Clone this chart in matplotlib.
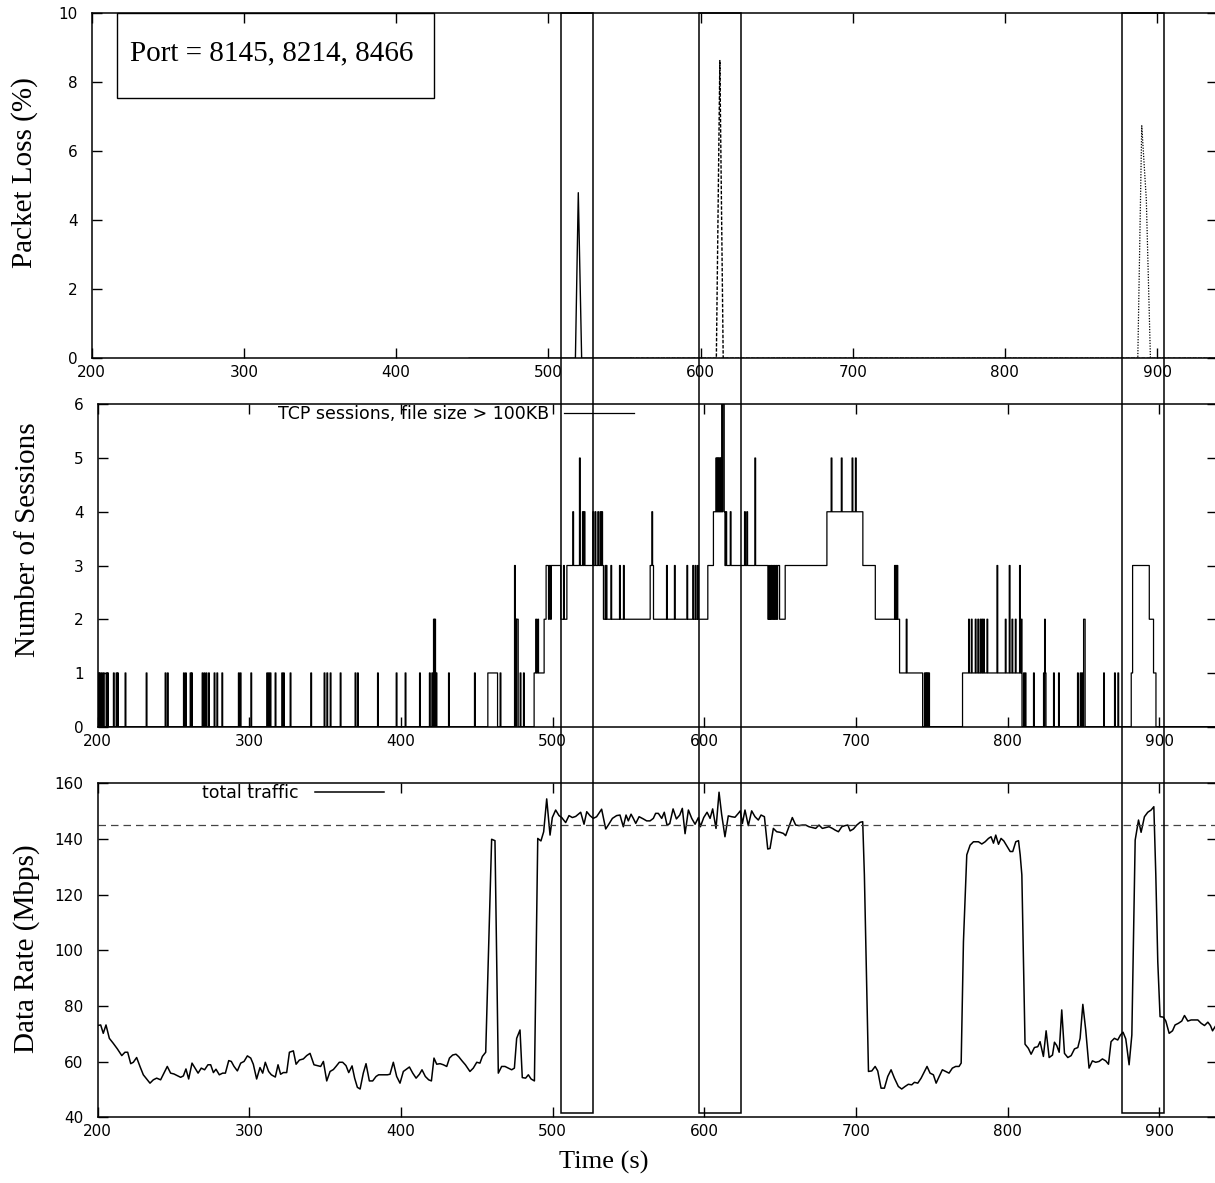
import numpy as np
import matplotlib
matplotlib.use("Agg")
import matplotlib.pyplot as plt
from matplotlib.patches import Rectangle
from matplotlib.transforms import blended_transform_factory

plt.rcParams['font.family'] = ['DejaVu Sans']
SERIF = 'Liberation Serif'

# ---------------- data ----------------
# packet loss (%) for the three ports
loss_a_t = [448, 517.8, 519.7, 521.9, 554]
loss_a = [0, 0, 4.8, 0, 0]
loss_b_t = [554, 610.4, 612.7, 614.9, 938]
loss_b = [0, 0, 8.63, 0, 0]
loss_c_t = [554, 887.3, 889.9, 892.9, 895.6, 938]
loss_c = [0, 0, 6.74, 4.6, 0, 0]

# number of TCP sessions: baseline level changes (step)
sess_base_t = [200, 457.2, 463.6, 487.7, 494.3, 495.6, 505.3, 509.3, 533.4, 564.2,
               566.4, 602.2, 605.9, 613.5, 649.5, 653.2, 680.7, 704.4, 712.6, 728.6,
               743.8, 770.1, 809.3, 881.3, 882.2, 893.2, 896.0, 897.6]
sess_base_n = [0, 1, 0, 1, 2, 3, 2, 3, 2, 3,
               2, 3, 4, 3, 2, 3, 4, 3, 2, 1,
               0, 1, 0, 1, 3, 2, 1, 0]
# short-lived sessions (spikes) : time, level reached
spike_t = [200.3, 201.2, 202.5, 203.8, 205.6, 206.5, 210.4, 212.2, 213.1, 218.1,
           232, 244.5, 246, 256.6, 257.9, 261, 261.9, 268.9, 270.2, 271.5,
           273.1, 276.8, 278.6, 281.9, 292.8, 294, 301, 311.5, 312.6, 313.7,
           317, 321.4, 322.5, 326.9, 340.5, 349.3, 351.1, 353.3, 359.9, 369.7,
           371.3, 384.5, 396.8, 402.7, 412.2, 418.7, 420.3, 421.4, 422.2, 423.1,
           431.3, 448.4, 465.3, 474.8, 475.5, 476.2, 476.7, 478.5, 480.7, 488.8,
           490.1, 497.2, 498.5, 507.1, 513.2, 517.6, 519.6, 520.7, 526.4, 527.9,
           529.7, 531.2, 532.3, 534.5, 535.2, 538.3, 544, 546.6, 565.3, 575,
           580.2, 588.4, 592.3, 593.9, 595.4, 607.5, 608.3, 609.0, 609.8, 610.6,
           611.4, 612.0, 612.5, 614.1, 617, 626.4, 627.9, 633.2, 641.8, 642.5,
           643.3, 644.4, 645.5, 646.6, 647.7, 683.5, 690.2, 697.3, 699.5, 725.3,
           726.1, 726.9, 733, 745, 746, 746.8, 747.8, 774.1, 775.9, 778.5,
           780.2, 781.8, 782.9, 784, 786.2, 792.8, 798.3, 800.9, 802.7, 804.9,
           807.7, 808.8, 810.3, 811.4, 816.9, 823.5, 824.2, 824.6, 830.1, 833.4,
           845.9, 847.7, 848.8, 849.9, 850.4, 863.1, 870.3, 872.5]
spike_n = [1, 1, 1, 1, 1, 1, 1, 1, 1, 1,
           1, 1, 1, 1, 1, 1, 1, 1, 1, 1,
           1, 1, 1, 1, 1, 1, 1, 1, 1, 1,
           1, 1, 1, 1, 1, 1, 1, 1, 1, 1,
           1, 1, 1, 1, 1, 1, 1, 2, 2, 1,
           1, 1, 1, 3, 2, 2, 2, 1, 1, 2,
           2, 2, 2, 3, 4, 5, 4, 4, 4, 4,
           4, 4, 4, 3, 3, 3, 3, 3, 4, 3,
           3, 3, 3, 3, 3, 5, 5, 5, 5, 5,
           6, 6, 6, 4, 4, 4, 4, 5, 2, 2,
           2, 2, 2, 2, 2, 5, 5, 5, 5, 3,
           3, 3, 2, 1, 1, 1, 1, 2, 2, 2,
           2, 2, 2, 2, 2, 3, 2, 3, 2, 2,
           3, 2, 1, 1, 1, 1, 2, 1, 1, 1,
           1, 1, 1, 2, 2, 1, 1, 1]
spike_width = 0.5

# total traffic (Mbps)
traffic_t = [
    200, 202.1, 203.8, 205.6, 207.8, 210.4, 213.1, 216, 218.1, 219.9,
    221.9, 223.6, 225.8, 228, 230.2, 232.4, 234.6, 236.8, 239, 241.6,
    243.8, 246, 248.2, 250.4, 252.6, 254.8, 256.6, 258.3, 260.1, 262.3,
    264.1, 266.3, 268.4, 270.6, 272.8, 274.6, 276.4, 278.1, 280.3, 282.5,
    284.3, 286.5, 288.2, 290, 292.2, 294.4, 296.6, 298.8, 301, 302.7,
    304.9, 307.1, 308.9, 310.6, 312.8, 314.6, 317.2, 319, 320.7, 322.5,
    324.7, 326.5, 329.1, 330.9, 333.1, 335.7, 337.9, 340.1, 342.7, 344.9,
    347.1, 348.9, 351.1, 353.3, 355.5, 357.2, 359.4, 361.6, 363.8, 365.6,
    367.8, 369.5, 371.3, 373.1, 375.2, 377, 379.2, 381.4, 383.6, 385.3,
    388.4, 391.1, 392.8, 395, 397.2, 399.4, 401.6, 405.6, 407.8, 410,
    412.2, 413.9, 416.1, 418.3, 420.1, 421.8, 423.6, 425.8, 428, 430.2,
    432, 434.1, 436.3, 438.1, 440.3, 442.5,
    445.5, 447.7, 450, 452.1, 453.7, 455.9, 459.8, 462, 464.2, 466.4,
    468.6, 470.8, 473, 474.8, 476.3, 478.5, 480, 482.2, 484, 485.8,
    488, 490.2, 492.3, 494.1, 496.1, 498.3, 499.8, 502, 504.2, 506,
    508.6, 510.8, 513, 515.2, 518.5, 520.7, 522.5, 524.6, 526.8, 529,
    532.3, 535, 536.7, 539.4, 542.2, 544.4, 546.6, 548.4, 549.9, 551.7,
    553.2, 554.8, 557, 559.8, 562, 564.2, 566.4, 567.9, 569.7, 571.9,
    573.6, 575.4, 577.2, 579.4, 581.6, 583.8, 585.5, 587.3, 589.5, 591.7,
    593.9, 596.1, 597.4, 599.6, 601.8, 603.8, 605.5, 607.7, 609.7, 611.4,
    613.6, 615.8, 618, 620.2, 622.4, 623.7, 625.1, 626.8, 629, 631.2,
    633.4, 635.6, 637.4, 639.6, 641.8, 643.3, 645.5, 647.7, 649.9, 652.1,
    653.6, 655.8, 658, 660.2, 662.4, 664.6, 666.8, 669, 671.2, 673.4,
    675.6, 677.8, 680, 682.2, 684.4,
    686.2, 688.4, 690.6, 692.8, 694.6, 696.1, 698.3, 700.5, 702.7, 704.4,
    705.5, 708.2, 710.4, 712.6, 714.3, 716.5, 718.7, 720.9, 723.1, 725.3,
    727.9, 730.1, 732.3, 734.5, 736.7, 738.5, 740.7, 742.9, 745.1, 746.8,
    748.8, 751, 752.8, 754.8, 756.9, 759.1, 761.3, 763.5, 765.7, 767.9,
    769.3, 770.8, 773, 775.2, 777.4, 780.7, 782.9, 785.1, 787.3, 789,
    790.6, 792.1, 793.9, 795.6, 797.4, 799.4, 801.6, 803.3, 805.3, 807.1,
    808.2, 809.3, 810.4, 811.4, 813.6, 815.4, 817.6, 819.8, 821.3, 823.5,
    825.3, 827.3, 829.5, 830.8, 832.3, 833.9, 835.6, 837.4, 839.6, 841.8,
    844, 846.2, 847.7, 849.5, 851.4, 853.6, 855.8, 858, 860.2, 862.4,
    864.6, 866.4, 868.1, 870.3, 872.5, 874.3, 876, 877.8, 880, 881.8,
    884, 886.2, 887.9, 890.1, 892.3, 894.5, 896.3, 897.6, 898.9, 900.4,
    902.6, 904.2, 906.4, 908.6, 910.3, 912.5, 914.7, 916.5, 918.7, 920.9,
    923.1, 925.3, 927.5, 929.7, 931.9, 933.6, 935, 936.7]
traffic_mbps = [
    73.0, 73.2, 70.2, 73.2, 68.4, 66.6, 64.6, 62.2, 63.4, 63.4,
    59.3, 59.8, 61.5, 58.3, 55.3, 53.8, 52.3, 53.5, 54.1, 53.5,
    55.9, 58.3, 55.9, 55.6, 55.0, 54.4, 54.9, 57.4, 53.8, 59.5,
    57.9, 55.9, 57.7, 57.1, 58.9, 58.9, 56.1, 57.3, 55.3, 55.9,
    55.9, 60.4, 60.1, 58.3, 56.7, 59.5, 60.1, 62.1, 61.3, 59.1,
    53.8, 57.9, 55.9, 59.8, 56.5, 55.3, 54.5, 58.9, 55.5, 56.1,
    56.1, 63.4, 63.9, 59.1, 60.6, 61.0, 62.2, 63.0, 58.9, 58.6,
    58.3, 60.1, 53.1, 56.5, 57.2, 58.3, 59.8, 59.8, 58.6, 56.1,
    58.5, 54.1, 50.8, 50.2, 55.9, 59.3, 53.1, 53.1, 54.7, 55.3,
    55.3, 55.3, 55.5, 59.8, 54.7, 52.3, 56.5, 58.1, 55.9, 54.1,
    55.5, 57.1, 54.7, 53.5, 53.1, 61.3, 59.1, 59.3, 58.9, 58.3,
    61.3, 62.4, 62.7, 61.8, 60.3, 58.9,
    56.5, 57.7, 59.8, 59.5, 61.9, 63.4, 139.9, 139.4, 55.9, 58.3,
    58.3, 57.7, 57.1, 57.7, 68.4, 71.4, 54.3, 54.1, 55.3, 53.8,
    53.1, 140.2, 139.3, 142.6, 154.4, 141.4, 147.7, 150.4, 148.4, 147.7,
    145.9, 148.4, 147.7, 148.1, 149.6, 145.3, 149.8, 148.4, 147.4, 148.0,
    150.7, 143.6, 145.0, 147.4, 148.4, 148.6, 144.4, 148.6, 146.5, 148.9,
    147.4, 145.6, 148.0, 147.2, 146.5, 146.5, 147.4, 149.2, 149.2, 147.4,
    149.6, 145.0, 145.5, 150.8, 147.2, 148.6, 151.0, 141.9, 150.4, 147.4,
    145.3, 147.7, 144.4, 147.7, 149.6, 147.4, 150.8, 143.8, 156.8, 148.9,
    140.8, 148.3, 148.0, 147.8, 149.2, 150.1, 145.6, 150.4, 144.8, 150.1,
    148.0, 146.8, 148.6, 148.0, 136.4, 136.6, 143.8, 142.6, 142.4, 142.0,
    141.2, 144.4, 147.7, 145.0, 144.8, 145.0, 145.0, 144.4, 144.1, 143.8,
    145.0, 143.8, 144.1, 144.4, 143.8,
    143.2, 142.6, 144.4, 144.8, 145.0, 142.9, 143.6, 145.0, 146.0, 146.2,
    127.1, 56.5, 56.7, 58.3, 56.7, 50.5, 50.5, 54.7, 57.1, 54.1,
    51.1, 50.2, 51.1, 51.9, 51.7, 52.6, 52.3, 54.1, 56.5, 58.3,
    55.9, 55.3, 52.3, 54.7, 57.1, 56.5, 55.9, 57.7, 58.3, 58.3,
    59.5, 103.1, 134.3, 137.8, 139.0, 139.0, 138.2, 139.0, 140.2, 140.8,
    138.5, 141.4, 138.1, 140.2, 139.3, 137.5, 135.5, 135.5, 139.0, 139.4,
    134.3, 127.1, 95.9, 66.3, 64.8, 62.7, 65.1, 65.4, 67.2, 61.9,
    71.1, 61.5, 62.4, 67.0, 65.8, 63.4, 78.6, 63.0, 61.5, 62.2,
    64.6, 65.1, 68.4, 80.6, 71.4, 57.7, 60.3, 59.8, 60.1, 61.0,
    60.3, 59.1, 67.2, 68.4, 67.8, 69.6, 70.6, 68.2, 58.9, 69.6,
    139.6, 146.8, 142.4, 148.0, 149.6, 150.4, 151.6, 127.1, 95.9, 76.2,
    76.0, 74.6, 70.2, 71.1, 73.2, 73.8, 74.6, 76.6, 74.6, 75.0,
    75.0, 75.0, 73.8, 73.0, 74.2, 73.0, 71.1, 72.6]
link_capacity = 145  # dashed reference line

# highlighted time windows (s)
windows = [(505.8, 526.6), (596.5, 624.4), (875.4, 903.3)]

port_text = "Port = 8145, 8214, 8466"

# ---------------- figure ----------------
W, H = 1215, 1183
fig = plt.figure(figsize=(W / 100, H / 100), dpi=100)

def px_axes(left, right, top, bottom):
    return fig.add_axes([left / W, 1 - bottom / H, (right - left) / W, (bottom - top) / H])

ax1 = px_axes(91.7, 1217.4, 13.3, 358.3)
ax2 = px_axes(97.5, 1217.4, 404.3, 726.7)
ax3 = px_axes(97.5, 1217.4, 783.3, 1117.4)

for ax in (ax1, ax2, ax3):
    ax.tick_params(direction='in', top=True, right=True, length=7, width=1,
                   labelsize=11, pad=5)
    ax.tick_params(axis='y', pad=10)
    ax.set_xticks(range(200, 901, 100))
    for s in ax.spines.values():
        s.set_linewidth(1.1)
    ax.spines['right'].set_visible(False)

# top: packet loss
ax1.plot(loss_a_t, loss_a, color='black', lw=1.0)
ax1.plot(loss_c_t, loss_c, color='black', lw=0.9, linestyle=(0, (1, 1.2)))
ax1.plot(loss_b_t, loss_b, color='black', lw=1.0, linestyle=(0, (2.5, 1.2)))
ax1.set_xlim(200, 939.6)
ax1.set_ylim(0, 10)
ax1.set_yticks(range(0, 11, 2))
ax1.set_ylabel("Packet Loss (%)", family=SERIF, fontsize=21, va='center')
ax1.yaxis.set_label_coords(-0.0593, 0.537)
ax1.add_patch(Rectangle((0.0227, 0.7536), 0.2816, 0.2464, transform=ax1.transAxes,
                        fill=False, edgecolor='black', lw=1.0, clip_on=False))
ax1.text(0.1597, 0.8640, port_text, transform=ax1.transAxes, family=SERIF,
         fontsize=21, ha='center', va='baseline')

# middle: sessions
grid = np.arange(200, 937.05, 0.1)
level = np.zeros_like(grid)
for t0, n in zip(sess_base_t, sess_base_n):
    level[grid >= t0] = n
for t0, n in zip(spike_t, spike_n):
    level[(grid >= t0) & (grid < t0 + spike_width)] = n
sess_line, = ax2.plot(grid, level, drawstyle='steps-post', color='black', lw=0.9)
ax2.set_xlim(200, 938.2)
ax2.set_ylim(0, 6)
ax2.set_yticks(range(0, 7))
ax2.set_ylabel("Number of Sessions", family=SERIF, fontsize=21, va='center')
ax2.yaxis.set_label_coords(-0.0621, 0.579)
ax2.legend([sess_line], ["TCP sessions, file size > 100KB"], loc='upper right',
           bbox_to_anchor=(0.479, 0.998), markerfirst=False, frameon=False,
           handlelength=4.0, handletextpad=0.9, borderpad=0, borderaxespad=0,
           fontsize=12.5)

# bottom: data rate
traffic_line, = ax3.plot(traffic_t, traffic_mbps, color='black', lw=1.1)
ax3.axhline(link_capacity, color='#444444', lw=0.9, linestyle=(0, (6, 4)))
ax3.set_xlim(200, 938.2)
ax3.set_ylim(40, 160)
ax3.set_yticks(range(40, 161, 20))
ax3.set_ylabel("Data Rate (Mbps)", family=SERIF, fontsize=21, va='center')
ax3.yaxis.set_label_coords(-0.0638, 0.504)
ax3.set_xlabel("Time (s)", family=SERIF, fontsize=19, va='center')
ax3.xaxis.set_label_coords(0.452, -0.1335)
ax3.legend([traffic_line], ["total traffic"], loc='upper right',
           bbox_to_anchor=(0.256, 0.997), markerfirst=False, frameon=False,
           handlelength=4.0, handletextpad=0.9, borderpad=0, borderaxespad=0,
           fontsize=12.5)

# highlight windows spanning the three panels
trans = blended_transform_factory(ax3.transData, fig.transFigure)
y_top = ax1.get_position().y1
y_bot = 1 - 1113 / H
for a, b in windows:
    fig.add_artist(Rectangle((a, y_bot), b - a, y_top - y_bot, transform=trans,
                             fill=False, edgecolor='black', lw=1.1))

fig.savefig("out.png", dpi=100)
